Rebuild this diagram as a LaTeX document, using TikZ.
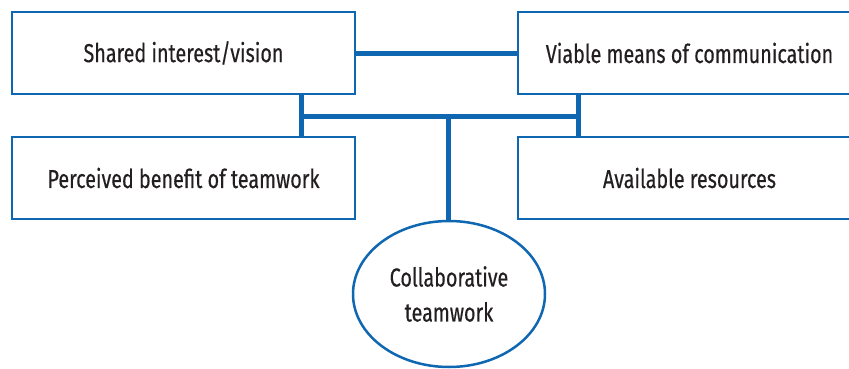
\documentclass[tikz,border=0pt]{standalone}
\usepackage{fontspec}
\setmainfont{Fira Sans}[FakeStretch=0.76, FakeBold=0.4]
\usetikzlibrary{shapes.geometric}
\definecolor{cblue}{HTML}{0F67B1}
\definecolor{ctext}{HTML}{231F20}
\tikzset{
  box/.style={draw=cblue, line width=2.5pt, fill=white, minimum width=343pt, minimum height=82pt, inner sep=0pt, text=ctext, font=\fontsize{26}{30}\selectfont},
  oval/.style={ellipse, draw=cblue, line width=2.5pt, fill=white, minimum width=192pt, minimum height=146pt, inner sep=0pt, text=ctext, align=center, font=\fontsize{26}{35}\selectfont},
  link/.style={draw=cblue, line width=5pt}
}
\begin{document}
\begin{tikzpicture}[x=1pt,y=1pt]
\useasboundingbox (0,0) rectangle (849,368);
\clip (0,0) rectangle (849,368);
\fill[white] (0,0) rectangle (849,368);
\coordinate (j1) at (301,252);
\coordinate (j2) at (578,252);
\coordinate (jm) at (448,252);
\node[box] (shared) at (183.5,315) {Shared interest/vision};
\node[box] (viable) at (689.5,315) {Viable means of communication};
\node[box] (perceived) at (183.5,190) {Perceived benefit of teamwork};
\node[box] (available) at (689.5,190) {Available resources};
\node[oval] (collab) at (449,74) {Collaborative\\teamwork};
\draw[link] (shared.east) -- (viable.west);
\draw[link] (shared.south -| j1) -- (perceived.north -| j1);
\draw[link] (viable.south -| j2) -- (available.north -| j2);
\draw[link] (j1) -- (j2);
\draw[link] (jm) -- (jm |- collab.north);
\end{tikzpicture}
\end{document}
